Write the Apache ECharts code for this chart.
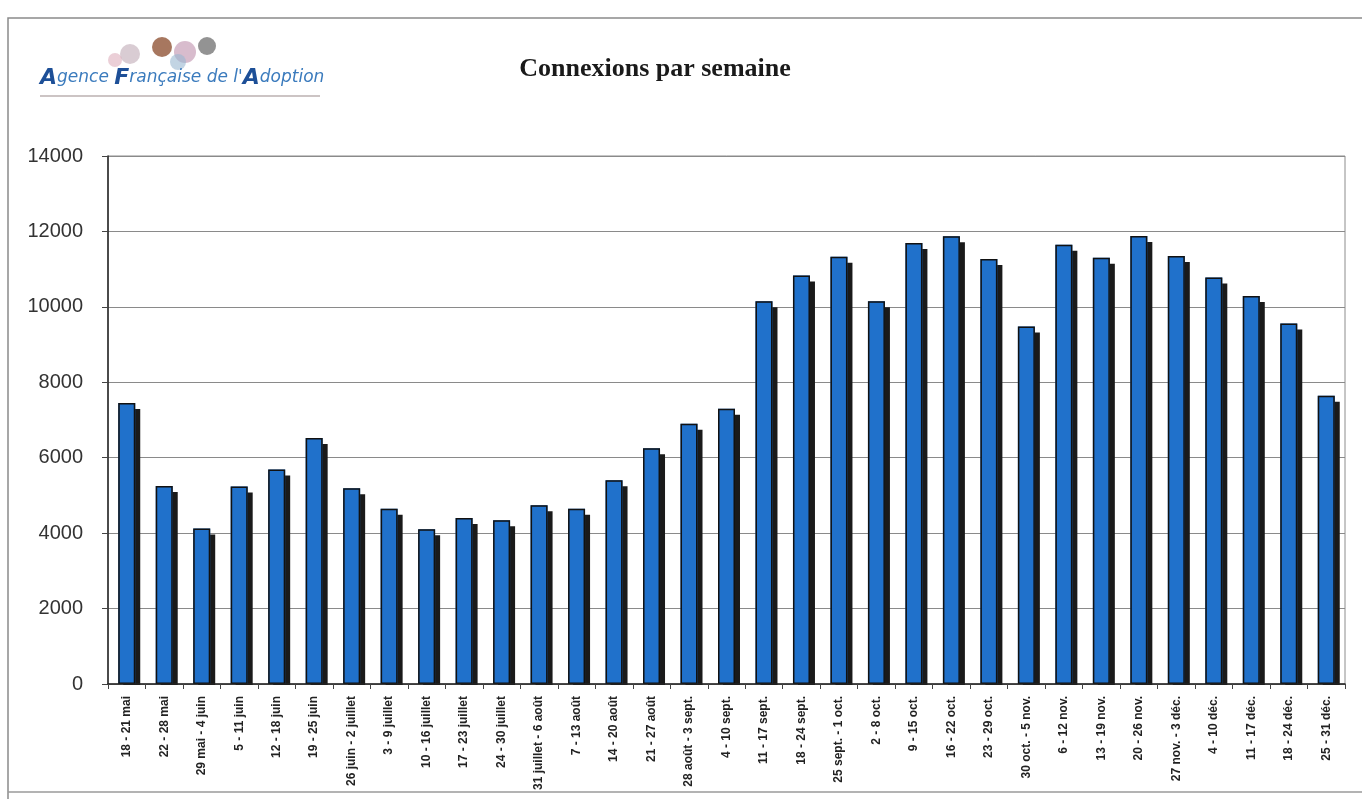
<!DOCTYPE html>
<html>
<head>
<meta charset="utf-8">
<script src="https://cdn.jsdelivr.net/npm/echarts@6/dist/echarts.min.js"></script>
<style>
html,body{margin:0;padding:0;background:#fff;}
#chart{width:1362px;height:799px;}
</style>
</head>
<body>
<div id="chart"></div>
<script>
const titleText = 'Connexions par semaine';
const weeks = ['18 - 21 mai','22 - 28 mai','29 mai - 4 juin','5 - 11 juin','12 - 18 juin','19 - 25 juin',
  '26 juin - 2 juillet','3 - 9 juillet','10 - 16 juillet','17 - 23 juillet','24 - 30 juillet',
  '31 juillet - 6 août','7 - 13 août','14 - 20 août','21 - 27 août','28 août - 3 sept.',
  '4 - 10 sept.','11 - 17 sept.','18 - 24 sept.','25 sept. - 1 oct.','2 - 8 oct.','9 - 15 oct.',
  '16 - 22 oct.','23 - 29 oct.','30 oct. - 5 nov.','6 - 12 nov.','13 - 19 nov.','20 - 26 nov.',
  '27 nov. - 3 déc.','4 - 10 déc.','11 - 17 déc.','18 - 24 déc.','25 - 31 déc.'];
const connexions = [7450,5250,4120,5240,5690,6520,5190,4650,4100,4400,4340,4740,4650,5400,6250,6900,
  7300,10150,10830,11330,10150,11690,11870,11270,9480,11650,11300,11880,11350,10780,10290,9560,7640];
const yTicks = {min:0, max:14000, interval:2000};

const chart = echarts.init(document.getElementById('chart'));
chart.setOption({
  backgroundColor:'#ffffff',
  animation:false,
  title:{
    text:titleText, left:650, top:51, textAlign:'center',
    textStyle:{fontFamily:'Liberation Serif', fontWeight:'bold', fontSize:26, color:'#1a1a1a'}
  },
  graphic:[
    {type:'polyline', shape:{points:[[8,800],[8,18],[1362,18]]}, style:{stroke:'#8a8a8a', lineWidth:1.5, fill:null}},
    {type:'line', shape:{x1:8,y1:792,x2:1362,y2:792}, style:{stroke:'#9a9a9a', lineWidth:1.5}},
    {type:'line', shape:{x1:40,y1:96,x2:320,y2:96}, style:{stroke:'#9a8a8a', lineWidth:1.2}},
    {type:'circle', shape:{cx:130,cy:54,r:10}, style:{fill:'#c9b7c0', opacity:0.7}},
    {type:'circle', shape:{cx:162,cy:47,r:10}, style:{fill:'#8a4a2a', opacity:0.75}},
    {type:'circle', shape:{cx:185,cy:52,r:11}, style:{fill:'#c7a0b8', opacity:0.7}},
    {type:'circle', shape:{cx:207,cy:46,r:9}, style:{fill:'#6f6f6f', opacity:0.75}},
    {type:'circle', shape:{cx:178,cy:62,r:8}, style:{fill:'#9ab8d0', opacity:0.6}},
    {type:'circle', shape:{cx:115,cy:60,r:7}, style:{fill:'#d8a0b0', opacity:0.5}},
    {type:'text', left:40, top:67, style:{
      text:'{b|A}{s|gence }{b|F}{s|rançaise de l\'}{b|A}{s|doption}',
      rich:{
        b:{fontFamily:'DejaVu Sans', fontStyle:'italic', fontSize:22, fill:'#1d4f97', fontWeight:'bold'},
        s:{fontFamily:'DejaVu Sans', fontStyle:'italic', fontSize:17, fill:'#3b7bbd'}
      }
    }},
    {type:'rect', z:5, shape:{x:109, y:685, width:1236, height:9}, style:{fill:'#ffffff'}}
  ],
  grid:{left:108, right:17, top:156, bottom:115, show:true, borderColor:'#8c8c8c', borderWidth:1},
  xAxis:{
    type:'category', data:weeks, z:10,
    axisLine:{lineStyle:{color:'#222', width:1.5}},
    axisTick:{show:true, length:5, lineStyle:{color:'#444'}},
    axisLabel:{interval:0, rotate:90, margin:12, fontFamily:'Liberation Sans', fontWeight:'bold', fontSize:12, color:'#222'},
    splitLine:{show:false}
  },
  yAxis:{
    type:'value', min:yTicks.min, max:yTicks.max, interval:yTicks.interval,
    axisLine:{show:true, lineStyle:{color:'#222', width:1.5}},
    axisTick:{show:true, length:6, lineStyle:{color:'#444'}},
    axisLabel:{margin:25, fontFamily:'Liberation Sans', fontSize:20, color:'#333', formatter:function(v){return String(v);}},
    splitLine:{lineStyle:{color:'#8a8a8a', width:1.2}}
  },
  series:[{
    type:'bar', data:connexions, barWidth:17, z:2,
    itemStyle:{color:'#2071cb', borderWidth:0,
      shadowColor:'#1a1a1a', shadowBlur:0, shadowOffsetX:5, shadowOffsetY:6}
  },{
    type:'bar', data:connexions, barWidth:17, barGap:'-100%', z:3,
    itemStyle:{color:'rgba(0,0,0,0)', borderColor:'#111', borderWidth:1.5},
    silent:true
  }]
});
</script>
</body>
</html>
